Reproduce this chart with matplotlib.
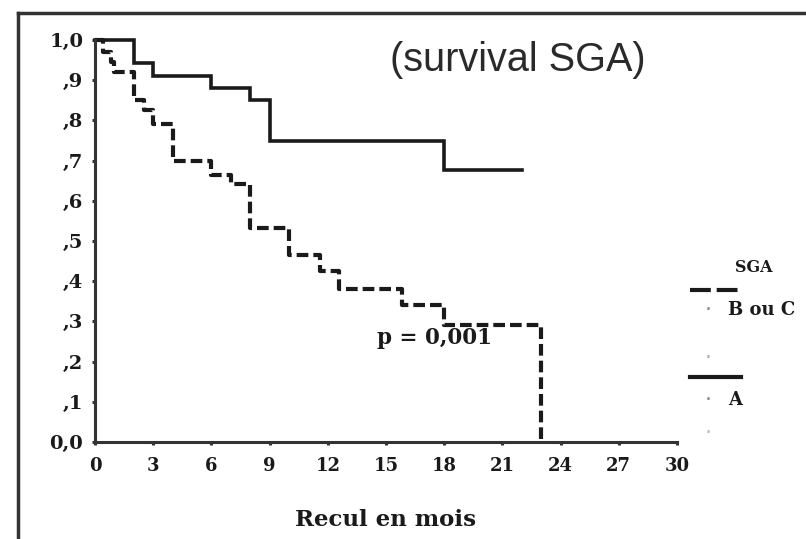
import matplotlib
matplotlib.use("Agg")
import matplotlib.pyplot as plt
from matplotlib.lines import Line2D

# ---- data ----
time_A = [0, 2, 3, 6, 8, 9, 18, 22]
surv_A = [1.0, 0.943, 0.91, 0.88, 0.85, 0.75, 0.677, 0.677]

time_BC = [0, 0.4, 0.8, 1.0, 2.0, 2.5, 3.0, 4.0, 6.0, 7.0, 8.0, 10.0, 11.6, 12.6, 15.8, 18.0, 23.0]
surv_BC = [1.0, 0.97, 0.945, 0.92, 0.85, 0.825, 0.79, 0.70, 0.665, 0.642, 0.532, 0.465, 0.425, 0.38, 0.34, 0.29, 0.0]

x_ticks = [0, 3, 6, 9, 12, 15, 18, 21, 24, 27, 30]
y_ticks = [0.0, 0.1, 0.2, 0.3, 0.4, 0.5, 0.6, 0.7, 0.8, 0.9, 1.0]
y_tick_labels = ["0,0", ",1", ",2", ",3", ",4", ",5", ",6", ",7", ",8", ",9", "1,0"]

title_text = "(survival SGA)"
p_text = "p = 0,001"
x_label = "Recul en mois"
legend_title = "SGA"
label_BC = "B ou C"
label_A = "A"

ink = "#1a1a1a"
serif = "DejaVu Serif"

fig = plt.figure(figsize=(8.06, 5.39), dpi=100)
fig.patch.set_facecolor("white")

# outer frame (top and left edges visible)
fx = 18 / 806
fy = 1 - 13 / 539
fig.add_artist(Line2D([fx, 1.0], [fy, fy], transform=fig.transFigure, color="#333333", lw=2.5))
fig.add_artist(Line2D([fx, fx], [0.0, fy], transform=fig.transFigure, color="#333333", lw=2.5))

ax = fig.add_axes([95 / 806, 1 - 442 / 539, 582 / 806, 402 / 539])
ax.set_xlim(0, 30)
ax.set_ylim(0, 1)
for s in ["top", "right"]:
    ax.spines[s].set_visible(False)
for s in ["left", "bottom"]:
    ax.spines[s].set_linewidth(2.2)
    ax.spines[s].set_color("#333333")

ax.set_xticks(x_ticks)
ax.set_xticklabels([str(v) for v in x_ticks])
ax.set_yticks(y_ticks)
ax.set_yticklabels(y_tick_labels)
ax.tick_params(axis="y", length=2.5, width=2.2, color="#333333", pad=6)
ax.tick_params(axis="x", length=2.5, width=2.2, color="#333333", pad=8)
for lab in ax.get_yticklabels():
    lab.set_fontfamily(serif)
    lab.set_fontweight("bold")
    lab.set_fontsize(14)
    lab.set_color(ink)
for lab in ax.get_xticklabels():
    lab.set_fontfamily(serif)
    lab.set_fontweight("bold")
    lab.set_fontsize(13)
    lab.set_color(ink)

ax.step(time_A, surv_A, where="post", color=ink, lw=2.6, clip_on=False,
        solid_joinstyle="miter")
ax.step(time_BC, surv_BC, where="post", color=ink, lw=3.0, clip_on=False,
        linestyle=(0, (2.8, 1.2)))

ax.text(0.727, 0.95, title_text, transform=ax.transAxes, ha="center", va="center",
        fontsize=28.5, family="Liberation Sans", color="#2a2a2a")
ax.text(0.4845, 0.259, p_text, transform=ax.transAxes, ha="left", va="center",
        fontsize=15.5, family=serif, fontweight="bold", color=ink)
ax.text(0.5, -0.194, x_label, transform=ax.transAxes, ha="center", va="center",
        fontsize=16.5, family=serif, fontweight="bold", color=ink)

# legend drawn manually
ax.text(1.132, 0.435, legend_title, transform=ax.transAxes, ha="center", va="center",
        fontsize=11.5, family=serif, fontweight="bold", color=ink)
ax.add_line(Line2D([1.022, 1.11], [0.378, 0.378], transform=ax.transAxes, color=ink,
                   lw=3.0, linestyle=(0, (5.0, 1.4)), clip_on=False))
ax.text(1.053, 0.328, "·", transform=ax.transAxes, ha="center", va="center",
        fontsize=16, color="#888888")
ax.text(1.0876, 0.328, label_BC, transform=ax.transAxes, ha="left", va="center",
        fontsize=13, family=serif, fontweight="bold", color=ink)
ax.text(1.053, 0.209, "·", transform=ax.transAxes, ha="center", va="center",
        fontsize=16, color="#aaaaaa")
ax.add_line(Line2D([1.022, 1.11], [0.162, 0.162], transform=ax.transAxes, color=ink,
                   lw=3.0, clip_on=False))
ax.text(1.053, 0.104, "·", transform=ax.transAxes, ha="center", va="center",
        fontsize=16, color="#888888")
ax.text(1.0876, 0.104, label_A, transform=ax.transAxes, ha="left", va="center",
        fontsize=13, family=serif, fontweight="bold", color=ink)
ax.text(1.053, 0.022, "·", transform=ax.transAxes, ha="center", va="center",
        fontsize=16, color="#bbbbbb")

fig.savefig("out.png", dpi=100, facecolor="white")
